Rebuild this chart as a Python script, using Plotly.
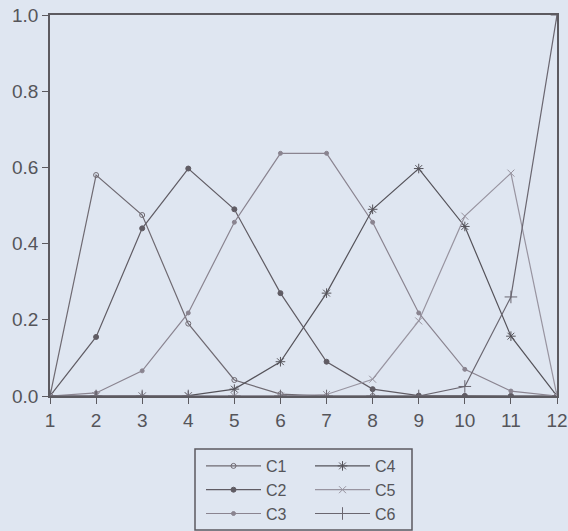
import plotly.graph_objects as go

# DATA================================================ #
x_values = [1, 2, 3, 4, 5, 6, 7, 8, 9, 10, 11, 12]

c1 = [0.0, 0.58, 0.475, 0.19, 0.042, 0.005, 0.0, 0.0, 0.0, 0.0, 0.0, 0.0]
c2 = [0.0, 0.155, 0.44, 0.597, 0.49, 0.27, 0.09, 0.018, 0.001, 0.0, 0.0, 0.0]
c3 = [0.0, 0.008, 0.066, 0.218, 0.456, 0.637, 0.637, 0.456, 0.218, 0.07, 0.013, 0.0]
c4 = [0.0, 0.0, 0.0, 0.001, 0.018, 0.09, 0.27, 0.49, 0.597, 0.445, 0.157, 0.0]
c5 = [0.0, 0.0, 0.0, 0.0, 0.0, 0.0, 0.004, 0.044, 0.197, 0.472, 0.585, 0.0]
c6 = [0.0, 0.0, 0.0, 0.0, 0.0, 0.0, 0.0, 0.0, 0.0, 0.025, 0.26, 1.0]

series_names = ['C1', 'C2', 'C3', 'C4', 'C5', 'C6']
series_values = [c1, c2, c3, c4, c5, c6]

y_ticks = [0.0, 0.2, 0.4, 0.6, 0.8, 1.0]
y_tick_labels = ['0.0', '0.2', '0.4', '0.6', '0.8', '1.0']

# STYLES================================================ #
colors = {
    'background': '#dfe6f1',
    'axis': '#5c5a60',
    'text': '#55555a'
}
symbols = ['circle-open', 'circle', 'circle', 'asterisk-open', 'x-thin-open', 'cross-thin-open']
sizes = [5, 5, 4, 8, 7, 9]
line_colors = ['#6f6a72', '#605c64', '#8a8490', '#55535a', '#9894a0', '#6a6670']
legend_groups = ['legend', 'legend', 'legend', 'legend2', 'legend2', 'legend2']

FW, FH = 568, 531
# plot area in pixels (from the reference)
L, R, T, B = 50, 557, 15, 396
W, H = R - L, B - T

# GRAPH================================================ #
fig = go.Figure()
for name, vals, sym, size, col, lg in zip(series_names, series_values, symbols, sizes, line_colors, legend_groups):
    fig.add_trace(go.Scatter(
        x=x_values, y=vals, name=name, mode='lines+markers',
        line=dict(color=col, width=1.2),
        marker=dict(symbol=sym, size=size, color=col, line=dict(color=col, width=1)),
        legend=lg
    ))

fig.update_layout(
    width=FW, height=FH,
    margin=dict(l=L, r=FW - R, t=T, b=FH - B, autoexpand=False),
    plot_bgcolor=colors['background'],
    paper_bgcolor=colors['background'],
    font=dict(family='Liberation Sans, Arial', size=19, color=colors['text']),
    xaxis=dict(
        range=[1, 12], tickvals=x_values, showgrid=False, zeroline=False,
        showline=True, linecolor=colors['axis'], linewidth=1.5, mirror=True,
        ticks='outside', ticklen=6, tickcolor=colors['axis'], ticklabeloverflow='allow'
    ),
    yaxis=dict(
        range=[0, 1], tickvals=y_ticks, ticktext=y_tick_labels, showgrid=False, zeroline=False,
        showline=True, linecolor=colors['axis'], linewidth=1.5, mirror=True,
        ticks='outside', ticklen=6, tickcolor=colors['axis'], ticklabeloverflow='allow'
    ),
    legend=dict(
        x=(201 - L) / W, y=(B - 449) / H, xanchor='left', yanchor='top',
        tracegroupgap=0, itemwidth=55, bgcolor='rgba(0,0,0,0)', font=dict(size=16)
    ),
    legend2=dict(
        x=(310 - L) / W, y=(B - 449) / H, xanchor='left', yanchor='top',
        tracegroupgap=0, itemwidth=55, bgcolor='rgba(0,0,0,0)', font=dict(size=16)
    ),
    shapes=[dict(
        type='rect', xref='paper', yref='paper',
        x0=(195 - L) / W, x1=(412 - L) / W,
        y0=(B - 530) / H, y1=(B - 449) / H,
        line=dict(color=colors['axis'], width=1.5)
    )]
)

# drop the page's default body margin so the figure fills the window
page_js = (
    "document.body.style.margin = '0';"
    "document.body.style.background = '%s';"
    "document.body.style.overflow = 'hidden';"
) % colors['background']
fig.write_html("out.html", post_script=page_js, config={'displayModeBar': False})
